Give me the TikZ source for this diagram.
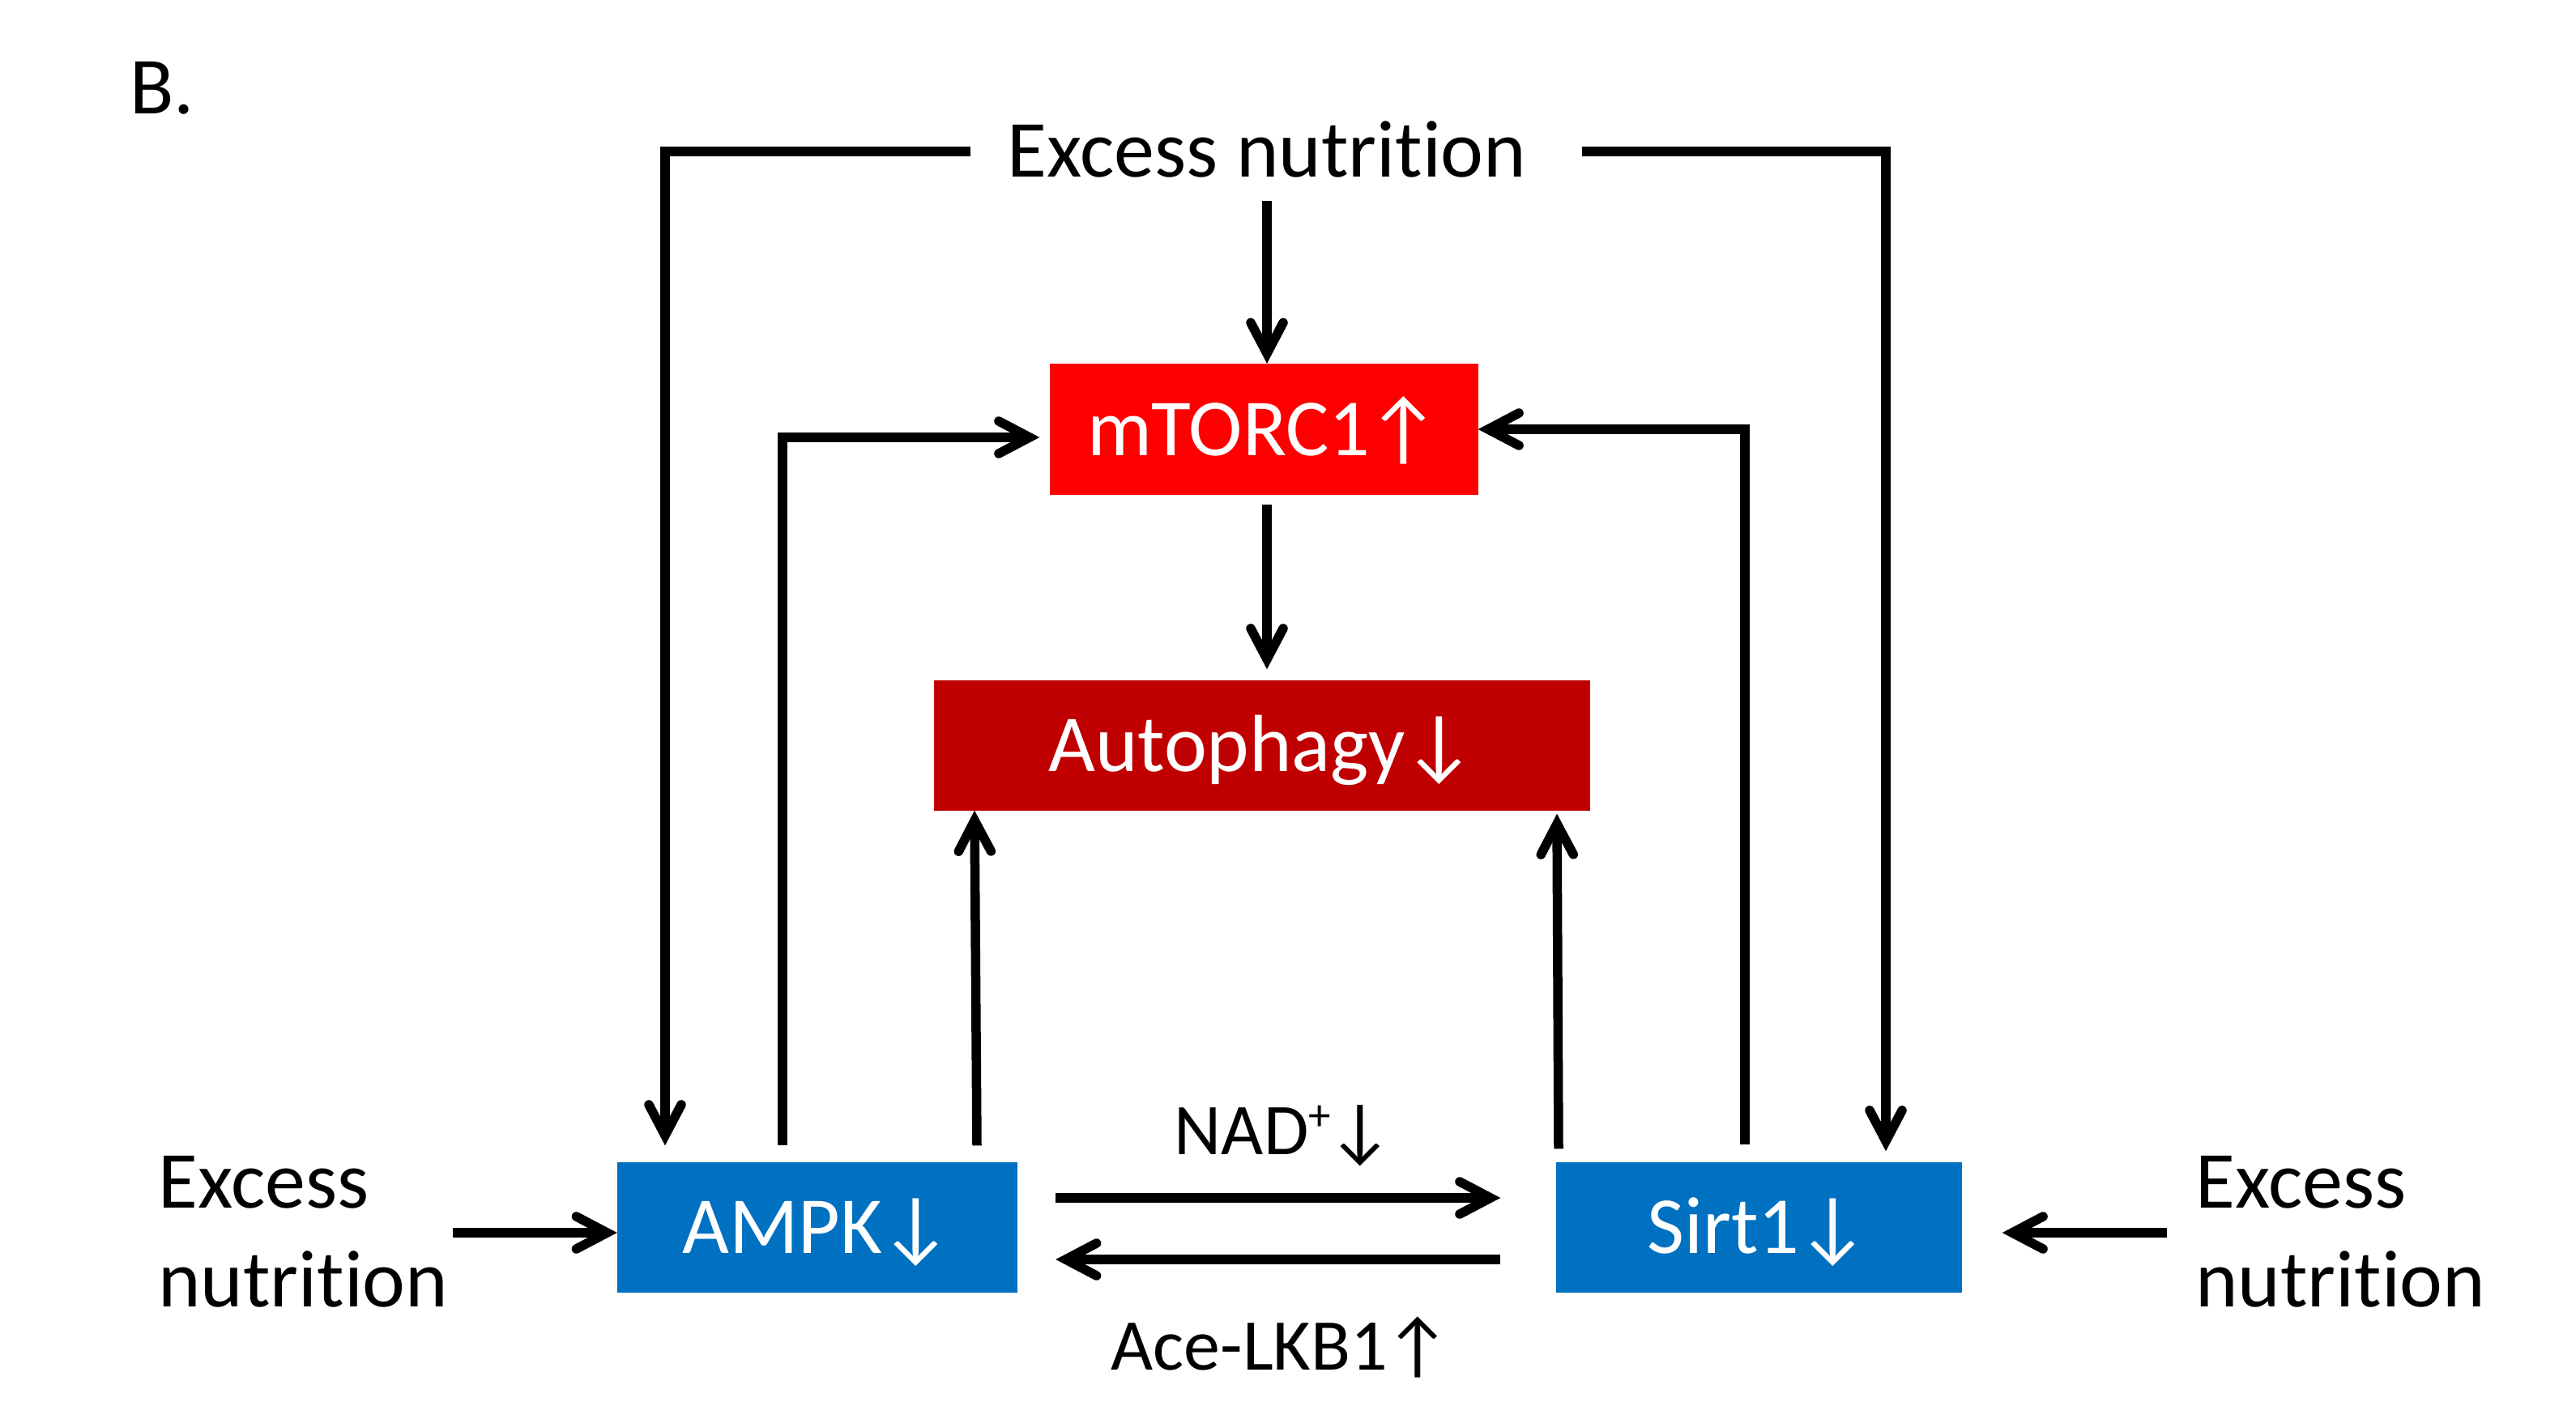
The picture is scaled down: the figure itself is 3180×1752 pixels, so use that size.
\documentclass[tikz,border=0pt]{standalone}
\usepackage{fontspec}
\setmainfont{Carlito}[RawFeature=-liga]
\usetikzlibrary{arrows.meta,calc}
\definecolor{mred}{HTML}{FF0000}
\definecolor{dred}{HTML}{C00000}
\definecolor{mblue}{HTML}{0070C0}
\newcommand{\upar}{\kern-4pt↑}
\newcommand{\dnar}{\kern-4pt↓}
\begin{document}
\begin{tikzpicture}[x=1pt,y=-1pt,
  conn/.style={line width=11.5pt},
  arr/.style={conn,-{Straight Barb[length=38pt,width=40pt,line cap=round,line join=miter]}},
  box/.style={rectangle,inner sep=0pt,text=white,text height=64pt,text depth=0pt,font=\fontsize{100}{120}\selectfont},
  lbl/.style={inner sep=0pt,font=\fontsize{100}{122}\selectfont},
  small/.style={inner sep=0pt,font=\fontsize{90}{108}\selectfont}]
\useasboundingbox (0,0) rectangle (3180,1752);
% boxes
\node[box,fill=mred,minimum width=529pt,minimum height=162pt] (mtorc) at (1560,530) {mTORC1\upar};
\node[box,fill=dred,minimum width=810pt,minimum height=161pt] (auto) at (1558,920) {Autophagy\dnar};
\node[box,fill=mblue,minimum width=494pt,minimum height=161pt] (ampk) at (1009,1515) {AMPK\dnar};
\node[box,fill=mblue,minimum width=501pt,minimum height=161pt] (sirt) at (2171,1515) {Sirt1\dnar};
% texts
\node[lbl,anchor=base west] (B) at (160,141) {B.};
\node[lbl,anchor=base] (entop) at (1564,219) {Excess nutrition};
\node[lbl,anchor=north west,align=left] (enl) at (195,1427) {Excess\\nutrition};
\node[lbl,anchor=north west,align=left] (enr) at (2710,1427) {Excess\\nutrition};
\node[small,anchor=base] (nad) at (1585,1425) {NAD\raisebox{30pt}{\fontsize{55}{60}\selectfont +}\kern-4pt↓};
\node[small,anchor=base] (lkb) at (1581,1691) {Ace-LKB1\upar};
% free ends of the top bars
\coordinate (tlA) at (1198,187);
\coordinate (tlB) at (821,187);
\coordinate (trA) at (1953,187);
\coordinate (trB) at (2328,187);
% connectors
\draw[arr] ($(entop.base)+(0,29)$) -- (mtorc.north -| entop.base);
\draw[arr] ($(mtorc.south)+(4,12)$) -- ($(auto.north)+(6,-13)$);
\draw[arr] (tlA) -- (tlB) -- ($(ampk.north -| tlB)+(0,-20)$);
\draw[arr] (trA) -- (trB) -- ($(sirt.north -| trB)+(0,-13)$);
\draw[arr] ($(ampk.north)+(-43,-20)$) |- ($(mtorc.west)+(-12,10)$);
\draw[arr] ($(ampk.north)+(197,-20)$) -- ($(auto.south)+(-355,0)$);
\draw[arr] ($(sirt.north)+(-247,-16)$) -- ($(auto.south)+(364,4)$);
\draw[arr] ($(sirt.north)+(-17,-21)$) |- (mtorc.east);
\draw[arr] ($(ampk.east)+(47,-36)$) -- ($(sirt.west)+(-68,-36)$);
\draw[arr] ($(sirt.west)+(-68,40)$) -- ($(ampk.east)+(47,40)$);
\draw[arr] ($(ampk.west -| enl.east)+(5,7)$) -- ($(ampk.west)+(0,7)$);
\draw[arr] ($(sirt.east -| enr.west)+(-35,7)$) -- ($(sirt.east)+(50,7)$);
\end{tikzpicture}
\end{document}
